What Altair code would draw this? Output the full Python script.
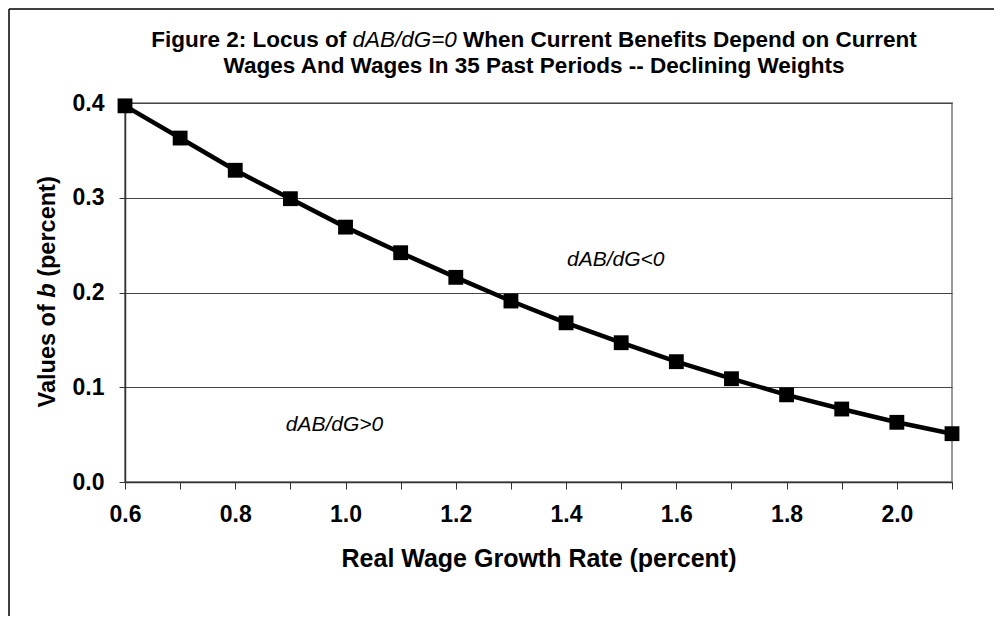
import altair as alt
import pandas as pd

# ---- data ----
growth = [0.6, 0.7, 0.8, 0.9, 1.0, 1.1, 1.2, 1.3, 1.4, 1.5, 1.6, 1.7, 1.8, 1.9, 2.0, 2.1]
b_vals = [0.397, 0.363, 0.329, 0.299, 0.269, 0.242, 0.216, 0.191, 0.168, 0.147,
          0.127, 0.109, 0.092, 0.077, 0.063, 0.051]
x_ticks = [0.6, 0.7, 0.8, 0.9, 1.0, 1.1, 1.2, 1.3, 1.4, 1.5, 1.6, 1.7, 1.8, 1.9, 2.0, 2.1]
y_ticks = [0.0, 0.1, 0.2, 0.3, 0.4]
ann_text = ["dAB/dG<0", "dAB/dG>0"]
ann_x = [1.49, 0.98]
ann_y = [0.234, 0.060]

title1_left = "Figure 2: Locus of"
title1_ital = "dAB/dG=0"
title1_right = "When Current Benefits Depend on Current"
title2 = "Wages And Wages In 35 Past Periods -- Declining Weights"
ytitle_left = "Values of"
ytitle_ital = "b"
ytitle_right = "(percent)"
xtitle = "Real Wage Growth Rate (percent)"

FONT = "Liberation Sans"
W, H = 827, 379
PAD_L, PAD_T, PAD_R, PAD_B = 117, 95, 42, 134

df = pd.DataFrame({"g": growth, "b": b_vals})
ann = pd.DataFrame({"g": ann_x, "b": ann_y, "t": ann_text})
one = pd.DataFrame({"k": [0]})

xenc = alt.X("g:Q",
             scale=alt.Scale(domain=[0.6, 2.1], nice=False, zero=False),
             axis=alt.Axis(values=x_ticks,
                           labelExpr="(round(datum.value*10) % 2 == 0) ? format(datum.value, '.1f') : ''",
                           grid=False, tickSize=7, tickColor="#333", domainColor="#333",
                           domainWidth=1.5, labelFont=FONT, labelFontSize=23,
                           labelFontWeight="bold", labelColor="black", labelPadding=14,
                           labelFlush=False, labelOverlap=False,
                           title=xtitle, titleFont=FONT, titleFontSize=25,
                           titleFontWeight="bold", titleColor="black", titlePadding=20))
yenc = alt.Y("b:Q",
             scale=alt.Scale(domain=[0, 0.4], nice=False),
             axis=alt.Axis(values=y_ticks, format=".1f", grid=True, gridColor="#444",
                           gridWidth=1, tickSize=6, tickColor="#333", domainColor="#333",
                           domainWidth=1.5, labelFont=FONT, labelFontSize=23,
                           labelFontWeight="bold", labelColor="black", labelPadding=15,
                           title=None))

line = alt.Chart(df).mark_line(color="black", strokeWidth=4.5).encode(x=xenc, y=yenc)
pts = alt.Chart(df).mark_point(shape="square", filled=True, size=220, color="black",
                               opacity=1).encode(x="g:Q", y="b:Q")
anns = alt.Chart(ann).mark_text(font=FONT, fontSize=21, fontStyle="italic",
                                color="black", align="center", baseline="middle").encode(
    x="g:Q", y="b:Q", text="t:N")


def txt(text, x, y, align, size, weight="bold", style="normal", angle=0):
    return alt.Chart(one).mark_text(font=FONT, fontSize=size, fontWeight=weight,
                                    fontStyle=style, align=align, baseline="middle",
                                    color="black", angle=angle).encode(
        x=alt.value(x), y=alt.value(y), text=alt.value(text))


# ---- title (mixed styles) ----
TFS = 22.5
SP = 0.278 * TFS
w_left = 8.67 * TFS
w_ital = 4.64 * TFS
w_right = 20.17 * TFS
cx = 409
start = cx - (w_left + SP + w_ital + SP + w_right) / 2
ty1 = -63
ty2 = -37
ital_x = start + w_left + SP
t1a = txt(title1_left, ital_x - SP, ty1, "right", TFS)
t1b = txt(title1_ital, ital_x, ty1, "left", TFS, weight="normal", style="italic")
t1c = txt(title1_right, ital_x + w_ital + SP, ty1, "left", TFS)
t2 = txt(title2, cx, ty2, "center", TFS)

# ---- y title (rotated, mixed styles) ----
YFS = 23.5
YSP = 0.278 * YFS
yw_left = 4.446 * YFS
yw_ital = 0.611 * YFS
yw_right = 4.278 * YFS
ycy = H / 2
ybottom = ycy + (yw_left + YSP + yw_ital + YSP + yw_right) / 2
yx = -77
yb_start = ybottom - yw_left - YSP
y1 = txt(ytitle_left, yx, yb_start + YSP, "right", YFS, angle=270)
y2 = txt(ytitle_ital, yx, yb_start, "left", YFS, style="italic", angle=270)
y3 = txt(ytitle_right, yx, yb_start - yw_ital - YSP, "left", YFS, angle=270)

# ---- outer frame (left and top edges) ----
frame_left = alt.Chart(one).mark_rule(color="black", strokeWidth=1.5).encode(
    x=alt.value(-116), y=alt.value(-94), y2=alt.value(H + PAD_B))
frame_top = alt.Chart(one).mark_rule(color="black", strokeWidth=1.5).encode(
    x=alt.value(-116), x2=alt.value(W + PAD_R), y=alt.value(-94))

chart = alt.layer(line, pts, anns, t1a, t1b, t1c, t2, y1, y2, y3, frame_left, frame_top).properties(
    width=W, height=H,
    autosize=alt.AutoSizeParams(type="none"),
    padding={"left": PAD_L, "top": PAD_T, "right": PAD_R, "bottom": PAD_B},
    background="white",
).configure_view(stroke="#999", strokeWidth=2)

chart.save("out.html", embed_options={"renderer": "svg", "actions": False})
